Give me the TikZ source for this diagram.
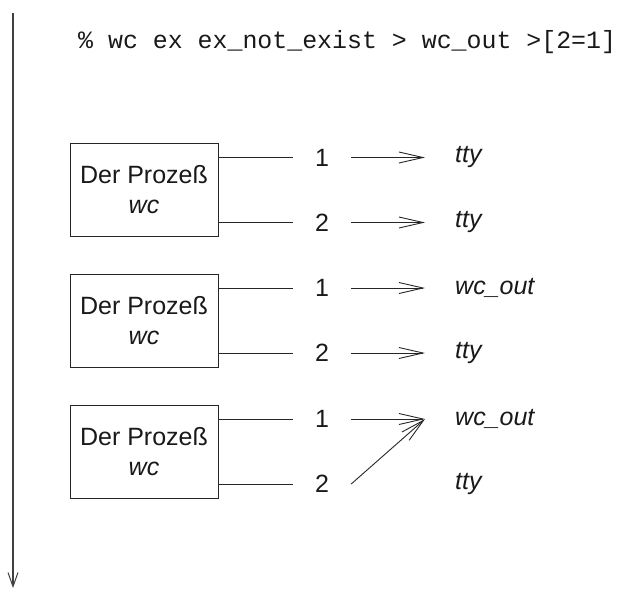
\documentclass[tikz,border=0pt]{standalone}
\usepackage{fontspec}
\setmainfont{Liberation Sans}
\newfontfamily\cmdfont{Liberation Mono}
\usetikzlibrary{arrows.meta,positioning}
\begin{document}
\begin{tikzpicture}[x=1pt,y=-1pt,
  every node/.style={font=\fontsize{25}{32}\selectfont, text=black!90},
  wire/.style={line width=0.9pt, draw=black!85},
  flow/.style={wire, -{Straight Barb[length=24pt,width=11pt,line width=0.9pt]}},
  procbox/.style={draw=black!85, line width=1pt, minimum width=148pt, minimum height=93pt,
    align=center, inner sep=0pt},
  fd/.style={minimum width=58pt, inner sep=0pt},
  target/.style={anchor=west, inner xsep=30pt, inner ysep=0pt, font=\fontsize{25}{32}\selectfont\itshape}]
\useasboundingbox (0,0) rectangle (629,590);

% time axis
\coordinate (tstart) at (13,13);
\coordinate (tend) at (13,588);
\draw[line width=1.2pt, draw=black!75, -{Straight Barb[length=14pt,width=10pt,line width=1pt]}] (tstart) -- (tend);

% shell command
\node[anchor=west, inner sep=0pt, font=\fontsize{24.9}{30}\cmdfont] (cmd) at (78,42)
  {\% wc ex ex\_not\_exist > wc\_out >[2=1]};

% three processes with their file descriptors
\foreach \i/\y in {1/190, 2/320.5, 3/451.5}{
  \node[procbox] (p\i) at (144,\y) {Der Prozeß\\[-2pt]\textit{wc}};
  \node[fd] (a\i) at (322,\y-32.5) {1};
  \node[fd] (b\i) at (322,\y+32.5) {2};
  \draw[wire] (p\i.east |- a\i) -- (a\i.west);
  \draw[wire] (p\i.east |- b\i) -- (b\i.west);
}

% targets
\node[target] (o1) at (425,157.5) {tty};
\node[target] (e1) at (425,222.5) {tty};
\node[target] (o2) at (425,288) {wc\_out};
\node[target] (e2) at (425,353) {tty};
\node[target] (o3) at (425,419) {wc\_out};
\node[target] (e3) at (425,484) {tty};

\draw[flow] (a1.east) -- (o1.west);
\draw[flow] (b1.east) -- (e1.west);
\draw[flow] (a2.east) -- (o2.west);
\draw[flow] (b2.east) -- (e2.west);
\draw[flow] (a3.east) -- (o3.west);
\draw[flow] (b3.east) -- (o3.west);
\end{tikzpicture}
\end{document}
